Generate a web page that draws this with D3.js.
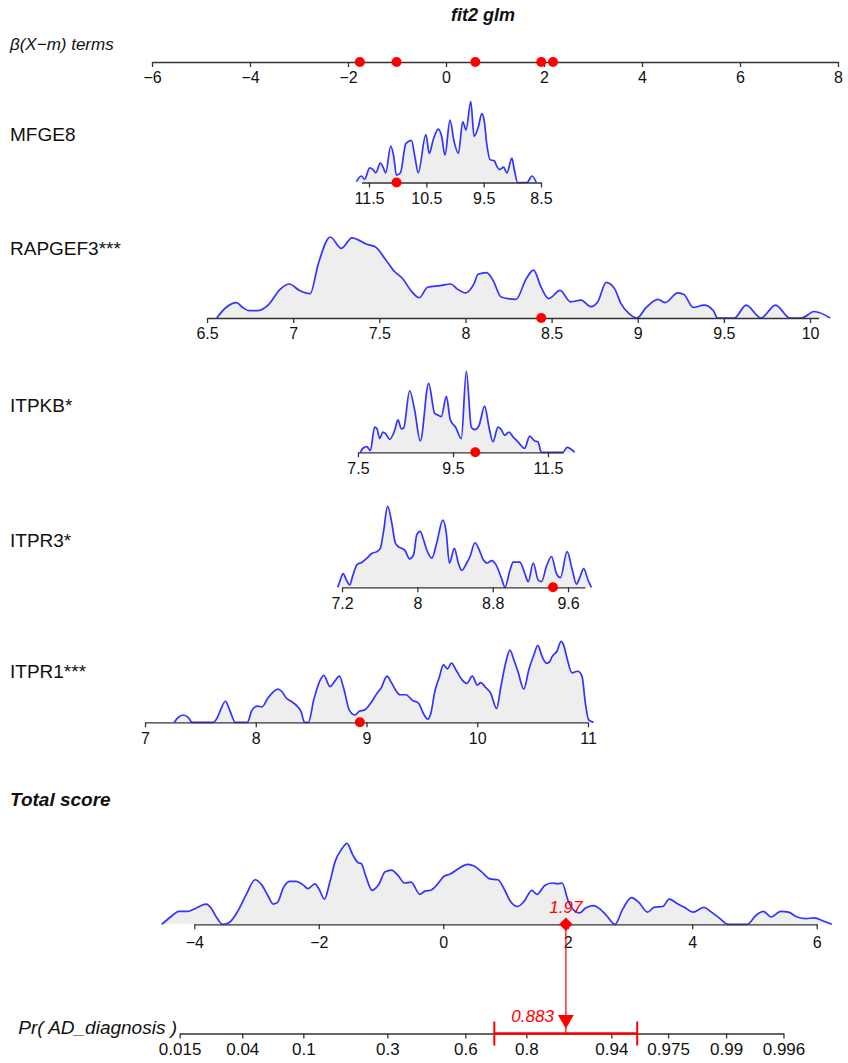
<!DOCTYPE html>
<html>
<head>
<meta charset="utf-8">
<script src="https://cdn.jsdelivr.net/npm/d3@7"></script>
<style>
body { margin: 0; background: #fff; }
svg text { font-family: "Liberation Sans", Arial, Helvetica, sans-serif; fill: #111; }
.axis path, .axis line { stroke: #333; stroke-width: 1.3; }
.axis text { font-size: 16px; }
.praxis text { font-family: "Liberation Sans Narrow", "Liberation Sans", Arial, sans-serif; font-size: 17px; }
.lab { font-size: 19px; }
</style>
</head>
<body>
<svg id="chart"></svg>
<script>
// ---- data ----
var varNames = ["MFGE8", "RAPGEF3***", "ITPKB*", "ITPR3*", "ITPR1***"];
var coefs = [-1.170, 3.516, 0.9694, 1.922, 2.260];      // beta per unit
var means = [10.157, 7.887, 9.353, 8.304, 9.718];       // centring values m
var observed = [11.02, 8.44, 9.97, 9.44, 8.94];         // the red dots
var axisExtent = [[11.63, 8.5], [6.5, 10.05], [7.5, 11.82], [7.2, 9.78], [7, 11]];

var betaTicks = [-6, -4, -2, 0, 2, 4, 6, 8];
var mfge8Ticks = [11.5, 10.5, 9.5, 8.5];
var rapgef3Ticks = [6.5, 7, 7.5, 8, 8.5, 9, 9.5, 10];
var itpkbTicks = [7.5, 9.5, 11.5];
var itpr3Ticks = [7.2, 8, 8.8, 9.6];
var itpr1Ticks = [7, 8, 9, 10, 11];
var totalTicks = [-4, -2, 0, 2, 4, 6];
var probTicks = [0.015, 0.04, 0.1, 0.3, 0.6, 0.8, 0.94, 0.975, 0.99, 0.996];

var totalScore = 1.97;
var predProb = 0.883;
var probCI = [0.705, 0.9596];

// densities: [value, relative height]
var mfge8Density = [[11.72,0.01],[11.634,0.08],[11.576,0.04],[11.488,0.18],[11.43,0.16],[11.383,0.12],[11.302,0.24],
  [11.255,0.19],[11.208,0.12],[11.121,0.45],[11.068,0.32],[11.021,0.09],[10.951,0.12],[10.858,0.48],[10.759,0.52],
  [10.7,0.32],[10.642,0.12],[10.508,0.59],[10.449,0.36],[10.379,0.53],[10.292,0.66],[10.233,0.57],[10.175,0.34],
  [10.087,0.77],[10.017,0.51],[9.941,0.36],[9.865,0.75],[9.807,0.65],[9.725,1.0],[9.667,0.57],[9.591,0.69],
  [9.533,0.85],[9.492,0.77],[9.445,0.47],[9.387,0.28],[9.317,0.27],[9.27,0.2],[9.223,0.16],[9.153,0.19],
  [9.095,0.12],[9.007,0.3],[8.966,0.16],[8.908,0],[8.745,0],[8.657,0.08],[8.581,0]];

var rapgef3Density = [[6.556,0],[6.61,0.13],[6.671,0.19],[6.707,0.13],[6.744,0.09],[6.793,0.09],[6.854,0.16],
  [6.927,0.36],[6.976,0.42],[7.037,0.34],[7.098,0.3],[7.146,0.67],[7.215,1.0],[7.28,0.86],[7.341,0.99],
  [7.427,0.91],[7.476,0.88],[7.537,0.72],[7.585,0.58],[7.634,0.49],[7.683,0.34],[7.732,0.25],[7.78,0.38],
  [7.854,0.4],[7.915,0.42],[7.951,0.36],[8.0,0.31],[8.049,0.42],[8.073,0.54],[8.122,0.56],[8.159,0.47],
  [8.207,0.26],[8.293,0.23],[8.354,0.49],[8.395,0.59],[8.439,0.38],[8.483,0.24],[8.549,0.34],[8.61,0.2],
  [8.671,0.22],[8.727,0.14],[8.768,0.2],[8.817,0.44],[8.866,0.36],[8.902,0.18],[8.951,0.05],[8.995,0],
  [9.049,0.13],[9.117,0.23],[9.159,0.19],[9.232,0.31],[9.268,0.29],[9.322,0.13],[9.385,0.16],[9.439,0.09],
  [9.463,0],[9.561,0],[9.629,0.16],[9.715,0],[9.8,0.16],[9.883,0],[9.951,0],[10.024,0.08],[10.117,0]];

var itpkbDensity = [[7.549,0],[7.605,0.05],[7.689,0.07],[7.76,0.02],[7.851,0.31],[7.9,0.29],[7.956,0.17],
  [8.026,0.25],[8.082,0.23],[8.167,0.16],[8.272,0.27],[8.342,0.4],[8.412,0.29],[8.461,0.3],[8.588,0.76],
  [8.693,0.52],[8.812,0.14],[8.988,0.85],[9.114,0.48],[9.184,0.46],[9.254,0.44],[9.36,0.69],[9.444,0.4],
  [9.556,0.31],[9.675,0.17],[9.781,1.0],[9.886,0.31],[9.956,0.28],[10.047,0.33],[10.167,0.57],[10.258,0.31],
  [10.342,0.13],[10.447,0.31],[10.518,0.28],[10.588,0.21],[10.679,0.25],[10.763,0.19],[10.868,0.13],
  [11.009,0.05],[11.114,0.2],[11.219,0.14],[11.289,0.13],[11.36,0],[11.816,0],[11.9,0.06],[12.061,0]];

var itpr3Density = [[7.154,0],[7.182,0.09],[7.211,0.17],[7.246,0.09],[7.281,0.03],[7.316,0.15],[7.359,0.28],
  [7.412,0.31],[7.465,0.36],[7.518,0.42],[7.571,0.44],[7.606,0.48],[7.641,0.69],[7.684,1.0],[7.729,0.79],
  [7.765,0.55],[7.8,0.5],[7.835,0.48],[7.871,0.45],[7.917,0.35],[7.959,0.4],[7.994,0.65],[8.03,0.69],
  [8.065,0.59],[8.1,0.46],[8.153,0.36],[8.206,0.55],[8.27,0.83],[8.305,0.69],[8.34,0.3],[8.393,0.48],
  [8.435,0.3],[8.471,0.21],[8.524,0.3],[8.559,0.38],[8.612,0.55],[8.658,0.46],[8.7,0.34],[8.743,0.3],
  [8.788,0.33],[8.834,0.28],[8.894,0.11],[8.93,0],[8.983,0.21],[9.018,0.31],[9.088,0.31],[9.141,0.17],
  [9.177,0.07],[9.23,0.3],[9.283,0.09],[9.318,0.07],[9.371,0.26],[9.424,0.38],[9.477,0.17],[9.519,0.12],
  [9.59,0.44],[9.646,0.21],[9.689,0.04],[9.724,0.12],[9.766,0.23],[9.812,0.09],[9.847,0]];

var itpr1Density = [[7.264,0],[7.3,0.06],[7.345,0.09],[7.39,0.06],[7.426,0],[7.615,0],[7.654,0.06],[7.684,0.16],
  [7.726,0.26],[7.765,0.15],[7.816,0],[7.924,0],[7.966,0.15],[8.014,0.2],[8.056,0.19],[8.11,0.3],[8.155,0.37],
  [8.2,0.41],[8.236,0.38],[8.275,0.3],[8.32,0.26],[8.374,0.2],[8.41,0.13],[8.44,0],[8.476,0],[8.524,0.28],
  [8.575,0.5],[8.614,0.58],[8.671,0.44],[8.71,0.5],[8.755,0.57],[8.794,0.42],[8.845,0.15],[8.896,0.09],
  [8.938,0.14],[8.98,0.15],[9.04,0.24],[9.095,0.36],[9.131,0.42],[9.185,0.57],[9.221,0.5],[9.257,0.41],
  [9.305,0.34],[9.356,0.34],[9.416,0.27],[9.467,0.24],[9.521,0.09],[9.551,0.04],[9.581,0.11],[9.617,0.38],
  [9.656,0.55],[9.695,0.71],[9.731,0.66],[9.767,0.73],[9.815,0.63],[9.866,0.52],[9.905,0.48],[9.956,0.57],
  [10.001,0.46],[10.031,0.49],[10.076,0.43],[10.121,0.36],[10.175,0.17],[10.211,0.42],[10.256,0.73],
  [10.295,0.89],[10.331,0.77],[10.367,0.63],[10.421,0.41],[10.466,0.65],[10.511,0.83],[10.547,0.95],
  [10.586,0.81],[10.625,0.73],[10.655,0.75],[10.676,0.81],[10.721,0.88],[10.757,1.0],[10.781,0.95],
  [10.811,0.79],[10.856,0.61],[10.907,0.63],[10.946,0.57],[10.976,0.24],[11.006,0.03],[11.051,0]];

var totalDensity = [[-4.523,0],[-4.383,0.09],[-4.244,0.16],[-4.105,0.16],[-4.0,0.19],[-3.895,0.23],[-3.805,0.25],
  [-3.721,0.19],[-3.638,0.08],[-3.547,0],[-3.443,0.02],[-3.303,0.16],[-3.164,0.37],[-3.024,0.55],[-2.92,0.49],
  [-2.815,0.35],[-2.732,0.25],[-2.662,0.27],[-2.571,0.45],[-2.467,0.53],[-2.362,0.53],[-2.258,0.49],
  [-2.174,0.44],[-2.063,0.5],[-1.993,0.43],[-1.909,0.31],[-1.826,0.51],[-1.735,0.78],[-1.631,0.93],
  [-1.547,1.0],[-1.456,0.86],[-1.366,0.76],[-1.317,0.75],[-1.247,0.6],[-1.143,0.42],[-1.038,0.49],
  [-0.934,0.65],[-0.829,0.67],[-0.725,0.6],[-0.62,0.51],[-0.516,0.52],[-0.376,0.37],[-0.293,0.41],
  [-0.202,0.42],[-0.098,0.49],[0.007,0.59],[0.111,0.62],[0.251,0.69],[0.39,0.74],[0.495,0.72],[0.613,0.65],
  [0.753,0.56],[0.878,0.55],[0.983,0.43],[1.073,0.29],[1.192,0.22],[1.296,0.28],[1.422,0.42],[1.505,0.37],
  [1.631,0.48],[1.749,0.51],[1.84,0.5],[1.909,0.51],[2.007,0.29],[2.118,0.16],[2.188,0.14],[2.286,0.2],
  [2.411,0.23],[2.516,0.19],[2.62,0.11],[2.76,0],[2.885,0.19],[3.024,0.33],[3.143,0.27],[3.282,0.15],
  [3.387,0.21],[3.526,0.22],[3.631,0.31],[3.77,0.25],[3.875,0.21],[4.014,0.15],[4.188,0.21],[4.293,0.16],
  [4.432,0.08],[4.571,0],[4.885,0],[5.024,0.11],[5.143,0.16],[5.268,0.09],[5.422,0.16],[5.547,0.15],
  [5.686,0.09],[5.826,0.07],[5.965,0.08],[6.105,0.04],[6.244,0]];

var varDensities = [mfge8Density, rapgef3Density, itpkbDensity, itpr3Density, itpr1Density];
var varTicks = [mfge8Ticks, rapgef3Ticks, itpkbTicks, itpr3Ticks, itpr1Ticks];

// ---- layout ----
var width = 848, height = 1063;
var densH = 81;
var blue = "#3333ff", red = "#ff0000";
var betaY = 62;
var rowAxisY = [182.5, 318, 452.3, 587.3, 722.3];
var rowLabelY = [141, 255, 412, 547, 678];
var totalY = 924.3, probY = 1033.5;

var svg = d3.select("#chart").attr("width", width).attr("height", height);

var betaX = d3.scaleLinear().domain([-6, 8]).range([152, 838]);
var totalX = d3.scaleLinear().domain([-4, 6]).range([194.3, 816.7]);

var fmtNum = function(d) { return String(d).replace("-", "\u2212"); };

function drawAxis(y, scale, ticks, pad, cls, fmt) {
  var ax = d3.axisBottom(scale)
    .tickValues(ticks)
    .tickSize(5)
    .tickSizeOuter(0)
    .tickPadding(pad)
    .tickFormat(fmt || fmtNum);
  return svg.append("g")
    .attr("class", "axis " + (cls || ""))
    .attr("transform", "translate(0," + y + ")")
    .call(ax);
}

function drawDensity(scale, dens, axisY) {
  var area = d3.area().curve(d3.curveMonotoneX)
    .x(function(d) { return scale(d[0]); })
    .y0(axisY)
    .y1(function(d) { return axisY - d[1] * densH; });
  var line = d3.line().curve(d3.curveMonotoneX)
    .x(function(d) { return scale(d[0]); })
    .y(function(d) { return axisY - d[1] * densH; });
  svg.append("path").datum(dens).attr("d", area).attr("fill", "#eeeeee");
  svg.append("path").datum(dens).attr("d", line)
    .attr("fill", "none").attr("stroke", blue).attr("stroke-width", 1.7)
    .attr("stroke-linejoin", "round");
}

// title + beta axis
svg.append("text").attr("x", 483).attr("y", 21).attr("text-anchor", "middle")
  .style("font-size", "18px").style("font-weight", "bold").style("font-style", "italic")
  .text("fit2 glm");
svg.append("text").attr("x", 10).attr("y", 50)
  .style("font-style", "italic").style("font-size", "17px")
  .text("\u03b2(X\u2212m) terms");
drawAxis(betaY, betaX, betaTicks, 5);

var betas = observed.map(function(v, i) { return coefs[i] * (v - means[i]); });
svg.selectAll(".betadot").data(betas).enter().append("circle")
  .attr("class", "betadot")
  .attr("cx", function(d) { return betaX(d); })
  .attr("cy", betaY).attr("r", 5).attr("fill", red);

// variable rows
varNames.forEach(function(name, i) {
  var ext = axisExtent[i];
  var sc = d3.scaleLinear().domain(ext)
    .range([betaX(coefs[i] * (ext[0] - means[i])), betaX(coefs[i] * (ext[1] - means[i]))]);
  svg.append("text").attr("class", "lab").attr("x", 10).attr("y", rowLabelY[i]).text(name);
  drawDensity(sc, varDensities[i], rowAxisY[i]);
  drawAxis(rowAxisY[i], sc, varTicks[i], 5);
  svg.append("circle").attr("cx", sc(observed[i])).attr("cy", rowAxisY[i])
    .attr("r", 5).attr("fill", red);
});

// total score
svg.append("text").attr("class", "lab").attr("x", 10).attr("y", 806)
  .style("font-weight", "bold").style("font-style", "italic").text("Total score");
drawDensity(totalX, totalDensity, totalY);
drawAxis(totalY, totalX, totalTicks, 7);

// probability axis, aligned with total score through the logit link
var logit = function(p) { return Math.log(p / (1 - p)); };
var probOffset = logit(predProb) - totalScore;
var pLo = logit(probTicks[0]) - probOffset, pHi = logit(probTicks[probTicks.length - 1]) - probOffset;
var probScale = d3.scaleLinear().domain([pLo, pHi]).range([totalX(pLo), totalX(pHi)]);
var probX = function(p) { return probScale(logit(p) - probOffset); };

drawAxis(probY, probScale, probTicks.map(function(p) { return logit(p) - probOffset; }), 4, "praxis",
  function(d, i) { return String(probTicks[i]); });
svg.append("text").attr("class", "lab").attr("x", 177).attr("y", probY)
  .attr("text-anchor", "end").style("font-style", "italic").text("Pr( AD_diagnosis )");

// red prediction marks
var tx = totalX(totalScore), px = probX(predProb);
svg.append("line").attr("x1", tx).attr("x2", px).attr("y1", totalY).attr("y2", probY)
  .attr("stroke", red).attr("stroke-width", 1.2);
svg.append("path")
  .attr("d", d3.symbol(d3.symbolSquare, 90)())
  .attr("transform", "translate(" + tx + "," + totalY + ") rotate(45)")
  .attr("fill", red);
svg.append("text").attr("x", tx).attr("y", totalY - 11).attr("text-anchor", "middle")
  .style("font-size", "17px").style("font-style", "italic").style("fill", red)
  .text(totalScore.toFixed(2));
svg.append("path")
  .attr("d", d3.symbol(d3.symbolTriangle, 110)())
  .attr("transform", "translate(" + px + "," + (probY - 14) + ") rotate(180)")
  .attr("fill", red);
svg.append("text").attr("x", px - 12).attr("y", probY - 12).attr("text-anchor", "end")
  .style("font-size", "17px").style("font-style", "italic").style("fill", red)
  .text(predProb.toFixed(3));
svg.append("line").attr("x1", probX(probCI[0])).attr("x2", probX(probCI[1]))
  .attr("y1", probY).attr("y2", probY).attr("stroke", red).attr("stroke-width", 2.5);
svg.selectAll(".cicap").data(probCI).enter().append("line")
  .attr("class", "cicap")
  .attr("x1", function(d) { return probX(d); }).attr("x2", function(d) { return probX(d); })
  .attr("y1", probY - 12).attr("y2", probY + 12)
  .attr("stroke", red).attr("stroke-width", 2);
</script>
</body>
</html>
